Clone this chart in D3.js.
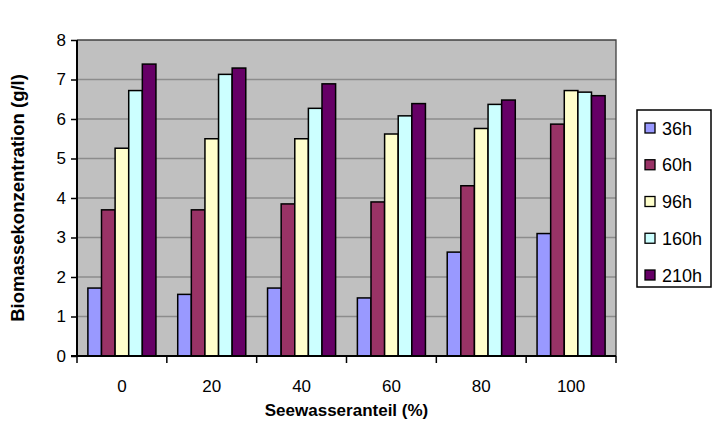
<!DOCTYPE html>
<html><head><meta charset="utf-8">
<script src="https://cdn.jsdelivr.net/npm/d3@7"></script>
<style>body{margin:0;background:#fff}svg{display:block}text{font-family:"Liberation Sans",Arial,sans-serif}</style>
</head><body>
<svg id="c" width="716" height="441"></svg>
<script>
const categories = ["0","20","40","60","80","100"];
const seriesNames = ["36h","60h","96h","160h","210h"];
const colors = ["#9999FF","#993366","#FFFFCC","#CCFFFF","#660066"];
const v36  = [1.72, 1.56, 1.72, 1.47, 2.63, 3.10];
const v60  = [3.70, 3.70, 3.85, 3.90, 4.31, 5.87];
const v96  = [5.26, 5.50, 5.50, 5.62, 5.76, 6.72];
const v160 = [6.72, 7.13, 6.27, 6.08, 6.37, 6.68];
const v210 = [7.39, 7.29, 6.89, 6.39, 6.48, 6.59];
const yTicks = [0,1,2,3,4,5,6,7,8];
const values = [v36, v60, v96, v160, v210];

const svg = d3.select("#c");
const m = {l:77, r:616, t:40, b:356};
const x = d3.scaleBand().domain(categories).range([m.l, m.r]).paddingInner(0).paddingOuter(0);
const xs = d3.scaleBand().domain(seriesNames).range([0, x.bandwidth()]).paddingInner(0).paddingOuter(0.8);
const y = d3.scaleLinear().domain([0,8]).range([m.b, m.t]);

svg.append("rect").attr("x",m.l).attr("y",m.t).attr("width",m.r-m.l).attr("height",m.b-m.t).attr("fill","#C0C0C0");
svg.append("g").selectAll("line").data(yTicks.filter(d=>d>0&&d<8)).join("line")
  .attr("x1",m.l).attr("x2",m.r).attr("y1",d=>y(d)).attr("y2",d=>y(d))
  .attr("stroke","#8c8c8c").attr("stroke-width",1.5);
svg.append("path").attr("d",`M${m.l},${m.t}H${m.r}V${m.b}`).attr("fill","none").attr("stroke","#404040").attr("stroke-width",1.3);

seriesNames.forEach((s,i)=>{
  svg.append("g").selectAll("rect").data(values[i]).join("rect")
    .attr("x",(d,j)=>x(categories[j])+xs(s))
    .attr("y",d=>y(d)).attr("width",xs.bandwidth()).attr("height",d=>y(0)-y(d))
    .attr("fill",colors[i]).attr("stroke","#000").attr("stroke-width",1.5);
});

const yAxis = d3.axisLeft(y).tickValues(yTicks).tickSize(6).tickPadding(5).tickFormat(d3.format("d"));
const gy = svg.append("g").attr("transform",`translate(${m.l},0)`).call(yAxis);
gy.select(".domain").attr("stroke","#000").attr("stroke-width",2).attr("d",`M0,${m.t}V${m.b}`);
gy.selectAll(".tick line").attr("stroke","#000").attr("stroke-width",1.5);
gy.selectAll("text").attr("font-size",17).attr("fill","#000").attr("font-family","Liberation Sans, Arial, sans-serif");

const gx = svg.append("g").attr("transform",`translate(0,${m.b})`)
  .call(d3.axisBottom(x).tickSize(0).tickPadding(24));
gx.select(".domain").attr("stroke","#000").attr("stroke-width",2).attr("d",`M${m.l-6},0H${m.r}`);
gx.selectAll("text").attr("font-size",17).attr("fill","#000").attr("font-family","Liberation Sans, Arial, sans-serif");
const bounds = categories.map(c=>x(c)).concat([m.r]);
svg.append("g").selectAll("line").data(bounds).join("line")
  .attr("x1",d=>d).attr("x2",d=>d).attr("y1",m.b).attr("y2",m.b+7).attr("stroke","#000").attr("stroke-width",1.5);

svg.append("text").attr("x",(m.l+m.r)/2).attr("y",416).attr("text-anchor","middle")
  .attr("font-size",17).attr("font-weight","bold").text("Seewasseranteil (%)");
svg.append("text").attr("transform",`translate(24,${(m.t+m.b)/2}) rotate(-90)`).attr("text-anchor","middle")
  .attr("font-size",18.5).attr("font-weight","bold").text("Biomassekonzentration (g/l)");

const lg = svg.append("g");
lg.append("rect").attr("x",637).attr("y",110).attr("width",74).attr("height",177).attr("fill","#fff").attr("stroke","#000").attr("stroke-width",1.5);
const ly = d3.scalePoint().domain(seriesNames).range([128,275]);
seriesNames.forEach((s,i)=>{
  lg.append("rect").attr("x",645).attr("y",ly(s)-5).attr("width",10).attr("height",10).attr("fill",colors[i]).attr("stroke","#000").attr("stroke-width",1.3);
  lg.append("text").attr("x",662).attr("y",ly(s)+6.5).attr("font-size",18).text(s);
});
</script>
</body></html>
